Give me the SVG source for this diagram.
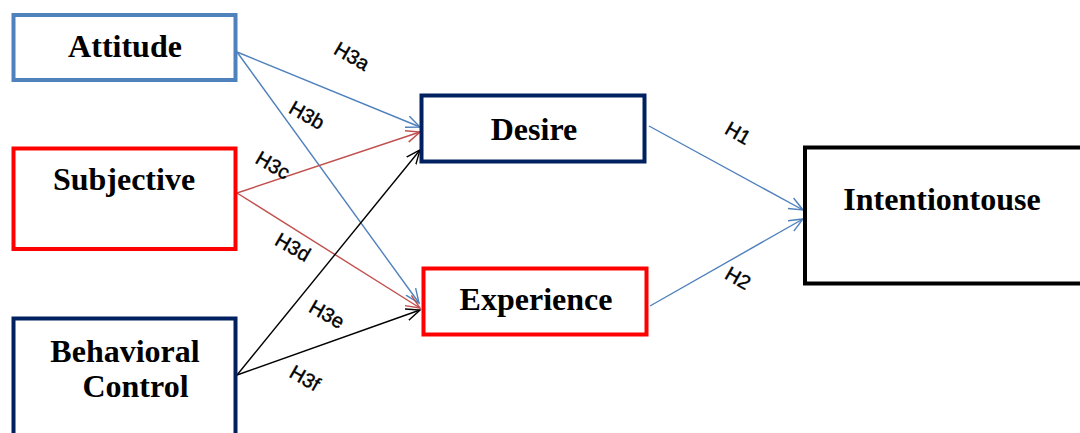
<svg xmlns="http://www.w3.org/2000/svg" width="1080" height="433" viewBox="0 0 1080 433">
<defs>
<style>
.box{fill:#fff;stroke-width:4}
.blue{stroke:#4f81bd}
.red{stroke:#ff0000}
.navy{stroke:#002060}
.blk{stroke:#000}
.t{font-family:"Liberation Serif","Times New Roman",serif;font-weight:bold;font-size:32px;fill:#000;text-anchor:middle}
.lbl{font-family:"Liberation Sans",Arial,sans-serif;font-size:20px;fill:#000;stroke:#000;stroke-width:0.4;text-anchor:middle;dominant-baseline:central}
.c{fill:none;stroke-width:1.4}
.cb{stroke:#4f81bd}
.cr{stroke:#c0504d}
.ck{stroke:#000}
</style>
<marker id="ab" markerUnits="userSpaceOnUse" markerWidth="16" markerHeight="14" refX="14" refY="6" orient="auto" viewBox="0 0 16 12"><path d="M0,0 L14,6 L0,12" fill="none" stroke="#4f81bd" stroke-width="1.4"/></marker>
<marker id="ar" markerUnits="userSpaceOnUse" markerWidth="16" markerHeight="14" refX="14" refY="6" orient="auto" viewBox="0 0 16 12"><path d="M0,0 L14,6 L0,12" fill="none" stroke="#c0504d" stroke-width="1.4"/></marker>
<marker id="ak" markerUnits="userSpaceOnUse" markerWidth="16" markerHeight="14" refX="14" refY="6" orient="auto" viewBox="0 0 16 12"><path d="M0,0 L14,6 L0,12" fill="none" stroke="#000" stroke-width="1.4"/></marker>
</defs>
<rect width="1080" height="433" fill="#fff"/>
<g id="connectors">
<line class="c cb" x1="237" y1="52" x2="420" y2="127" marker-end="url(#ab)"/>
<line class="c cb" x1="237" y1="52" x2="419" y2="303" marker-end="url(#ab)"/>
<line class="c cr" x1="237" y1="193" x2="420" y2="132" marker-end="url(#ar)"/>
<line class="c cr" x1="237" y1="193" x2="420" y2="308" marker-end="url(#ar)"/>
<line class="c ck" x1="237" y1="375" x2="420" y2="150" marker-end="url(#ak)"/>
<line class="c ck" x1="237" y1="375" x2="420" y2="310" marker-end="url(#ak)"/>
<line class="c cb" x1="649" y1="126" x2="803" y2="210" marker-end="url(#ab)"/>
<line class="c cb" x1="650" y1="306" x2="803" y2="219" marker-end="url(#ab)"/>
<text class="lbl" x="352" y="56" transform="rotate(30 352 56)">H3a</text>
<text class="lbl" x="307" y="115" transform="rotate(30 307 115)">H3b</text>
<text class="lbl" x="273" y="165" transform="rotate(30 273 165)">H3c</text>
<text class="lbl" x="293" y="247" transform="rotate(30 293 247)">H3d</text>
<text class="lbl" x="327" y="314" transform="rotate(30 327 314)">H3e</text>
<text class="lbl" x="305" y="378" transform="rotate(30 305 378)">H3f</text>
<text class="lbl" x="738" y="133" transform="rotate(30 738 133)">H1</text>
<text class="lbl" x="738" y="278" transform="rotate(30 738 278)">H2</text>
</g>
<g id="attitude">
<rect class="box blue" x="13.5" y="15" width="222" height="65"/>
<text class="t" x="125" y="57">Attitude</text>
</g>
<g id="subjective">
<rect class="box red" x="13.5" y="148.5" width="222" height="100.5"/>
<text class="t" x="124" y="190">Subjective</text>
</g>
<g id="behavioral">
<rect class="box navy" x="13.5" y="318.5" width="222" height="130"/>
<text class="t" x="125" y="362">Behavioral</text>
<text class="t" x="135.5" y="397">Control</text>
</g>
<g id="desire">
<rect class="box navy" x="421.5" y="95.5" width="223" height="66"/>
<text class="t" x="534" y="140">Desire</text>
</g>
<g id="experience">
<rect class="box red" x="423.5" y="268.5" width="223" height="66"/>
<text class="t" x="536" y="310">Experience</text>
</g>
<g id="intention">
<rect class="box blk" x="805" y="147.5" width="300" height="136"/>
<text class="t" x="942" y="210">Intentiontouse</text>
</g>
</svg>
